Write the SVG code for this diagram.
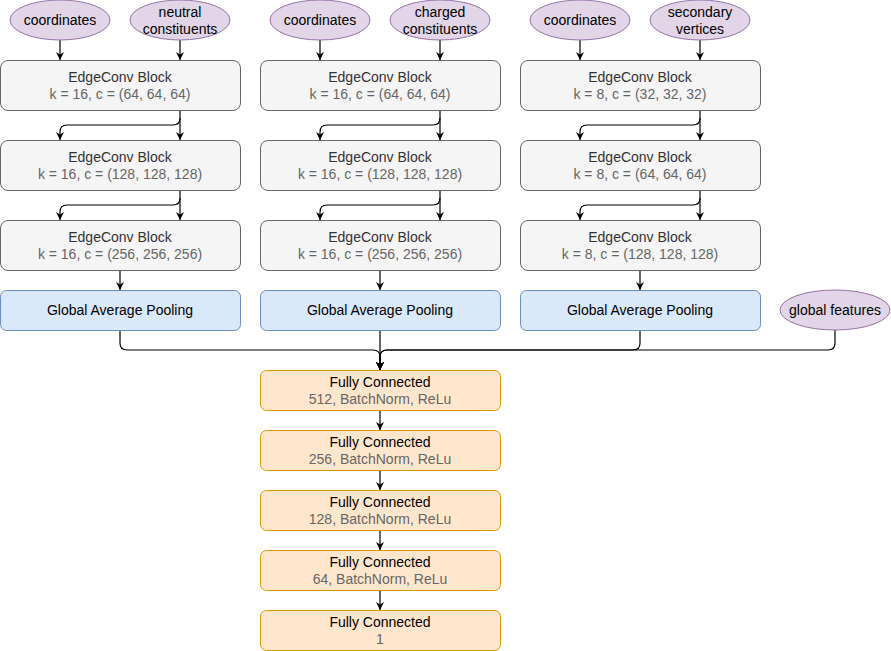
<svg xmlns="http://www.w3.org/2000/svg" width="891" height="651" viewBox="0 0 891 651">
<defs>
<marker id="arr" viewBox="0 0 10 10" refX="10" refY="5" markerWidth="8" markerHeight="8" markerUnits="userSpaceOnUse" orient="auto">
<path d="M0,0 L10,5 L0,10 L3,5 Z" fill="#000"/>
</marker>
<style>
text{font-family:"Liberation Sans",Arial,sans-serif;font-size:14px;text-anchor:middle}
.in{fill:#e1d5e7;stroke:#9673a6;stroke-width:1}
.ec{fill:#f5f5f5;stroke:#666666;stroke-width:1}
.gp{fill:#dae8fc;stroke:#6c8ebf;stroke-width:1}
.fc{fill:#ffe6cc;stroke:#d79b00;stroke-width:1}
.t1{fill:#333333}
.t0{fill:#000000}
.t2{fill:#666666}
.c{fill:none;stroke:#000;stroke-width:1.2}
.a{marker-end:url(#arr)}
</style>
</defs>
<rect width="891" height="651" fill="#ffffff"/>
<g id="connectors">
<!-- inputs -->
<path class="c a" d="M60,40 V60"/>
<path class="c a" d="M180,40 V60"/>
<path class="c a" d="M320,40 V60"/>
<path class="c a" d="M440,40 V60"/>
<path class="c a" d="M580,40 V60"/>
<path class="c a" d="M700,40 V60"/>
<!-- block1 to block2 -->
<path class="c a" d="M180,110 V140"/>
<path class="c a" d="M180,118 Q180,125 173,125 H67 Q60,125 60,132 V140"/>
<path class="c a" d="M440,110 V140"/>
<path class="c a" d="M440,118 Q440,125 433,125 H327 Q320,125 320,132 V140"/>
<path class="c a" d="M700,110 V140"/>
<path class="c a" d="M700,118 Q700,125 693,125 H587 Q580,125 580,132 V140"/>
<!-- block2 to block3 -->
<path class="c a" d="M180,190 V220"/>
<path class="c a" d="M180,198 Q180,205 173,205 H67 Q60,205 60,212 V220"/>
<path class="c a" d="M440,190 V220"/>
<path class="c a" d="M440,198 Q440,205 433,205 H327 Q320,205 320,212 V220"/>
<path class="c a" d="M700,190 V220"/>
<path class="c a" d="M700,198 Q700,205 693,205 H587 Q580,205 580,212 V220"/>
<!-- block3 to pooling -->
<path class="c a" d="M120,270 V290"/>
<path class="c a" d="M380,270 V290"/>
<path class="c a" d="M640,270 V290"/>
<!-- merge -->
<path class="c a" d="M120,330 V343 Q120,350 127,350 H373 Q380,350 380,357 V370"/>
<path class="c a" d="M380,330 V370"/>
<path class="c a" d="M640,330 V343 Q640,350 633,350 H387 Q380,350 380,357 V370"/>
<path class="c a" d="M835,330 V343 Q835,350 828,350 H387 Q380,350 380,357 V370"/>
<!-- FC chain -->
<path class="c a" d="M380,410 V430"/>
<path class="c a" d="M380,470 V490"/>
<path class="c a" d="M380,530 V550"/>
<path class="c a" d="M380,590 V610"/>
</g>
<g id="in-coord-1"><ellipse class="in" cx="60" cy="20" rx="50" ry="20"/><text class="t0" x="60" y="25">coordinates</text></g>
<g id="in-neutral"><ellipse class="in" cx="180" cy="20" rx="50" ry="20"/><text class="t0" x="180" y="17">neutral</text><text class="t0" x="180" y="34">constituents</text></g>
<g id="in-coord-2"><ellipse class="in" cx="320" cy="20" rx="50" ry="20"/><text class="t0" x="320" y="25">coordinates</text></g>
<g id="in-charged"><ellipse class="in" cx="440" cy="20" rx="50" ry="20"/><text class="t0" x="440" y="17">charged</text><text class="t0" x="440" y="34">constituents</text></g>
<g id="in-coord-3"><ellipse class="in" cx="580" cy="20" rx="50" ry="20"/><text class="t0" x="580" y="25">coordinates</text></g>
<g id="in-sv"><ellipse class="in" cx="700" cy="20" rx="50" ry="20"/><text class="t0" x="700" y="17">secondary</text><text class="t0" x="700" y="34">vertices</text></g>

<g id="ec-1-1"><rect class="ec" x="0.5" y="60.5" width="240" height="50" rx="7.5"/><text class="t1" x="120" y="82">EdgeConv Block</text><text class="t2" x="120" y="99">k = 16, c = (64, 64, 64)</text></g>
<g id="ec-1-2"><rect class="ec" x="0.5" y="140.5" width="240" height="50" rx="7.5"/><text class="t1" x="120" y="162">EdgeConv Block</text><text class="t2" x="120" y="179">k = 16, c = (128, 128, 128)</text></g>
<g id="ec-1-3"><rect class="ec" x="0.5" y="220.5" width="240" height="50" rx="7.5"/><text class="t1" x="120" y="242">EdgeConv Block</text><text class="t2" x="120" y="259">k = 16, c = (256, 256, 256)</text></g>

<g id="ec-2-1"><rect class="ec" x="260.5" y="60.5" width="240" height="50" rx="7.5"/><text class="t1" x="380" y="82">EdgeConv Block</text><text class="t2" x="380" y="99">k = 16, c = (64, 64, 64)</text></g>
<g id="ec-2-2"><rect class="ec" x="260.5" y="140.5" width="240" height="50" rx="7.5"/><text class="t1" x="380" y="162">EdgeConv Block</text><text class="t2" x="380" y="179">k = 16, c = (128, 128, 128)</text></g>
<g id="ec-2-3"><rect class="ec" x="260.5" y="220.5" width="240" height="50" rx="7.5"/><text class="t1" x="380" y="242">EdgeConv Block</text><text class="t2" x="380" y="259">k = 16, c = (256, 256, 256)</text></g>

<g id="ec-3-1"><rect class="ec" x="520.5" y="60.5" width="240" height="50" rx="7.5"/><text class="t1" x="640" y="82">EdgeConv Block</text><text class="t2" x="640" y="99">k = 8, c = (32, 32, 32)</text></g>
<g id="ec-3-2"><rect class="ec" x="520.5" y="140.5" width="240" height="50" rx="7.5"/><text class="t1" x="640" y="162">EdgeConv Block</text><text class="t2" x="640" y="179">k = 8, c = (64, 64, 64)</text></g>
<g id="ec-3-3"><rect class="ec" x="520.5" y="220.5" width="240" height="50" rx="7.5"/><text class="t1" x="640" y="242">EdgeConv Block</text><text class="t2" x="640" y="259">k = 8, c = (128, 128, 128)</text></g>

<g id="gap-1"><rect class="gp" x="0.5" y="290.5" width="240" height="40" rx="6"/><text class="t0" x="120" y="315">Global Average Pooling</text></g>
<g id="gap-2"><rect class="gp" x="260.5" y="290.5" width="240" height="40" rx="6"/><text class="t0" x="380" y="315">Global Average Pooling</text></g>
<g id="gap-3"><rect class="gp" x="520.5" y="290.5" width="240" height="40" rx="6"/><text class="t0" x="640" y="315">Global Average Pooling</text></g>
<g id="global-features"><ellipse class="in" cx="835" cy="310" rx="55" ry="20"/><text class="t0" x="835" y="315">global features</text></g>

<g id="fc-1"><rect class="fc" x="260.5" y="370.5" width="240" height="40" rx="6"/><text class="t0" x="380" y="387">Fully Connected</text><text class="t2" x="380" y="404">512, BatchNorm, ReLu</text></g>
<g id="fc-2"><rect class="fc" x="260.5" y="430.5" width="240" height="40" rx="6"/><text class="t0" x="380" y="447">Fully Connected</text><text class="t2" x="380" y="464">256, BatchNorm, ReLu</text></g>
<g id="fc-3"><rect class="fc" x="260.5" y="490.5" width="240" height="40" rx="6"/><text class="t0" x="380" y="507">Fully Connected</text><text class="t2" x="380" y="524">128, BatchNorm, ReLu</text></g>
<g id="fc-4"><rect class="fc" x="260.5" y="550.5" width="240" height="40" rx="6"/><text class="t0" x="380" y="567">Fully Connected</text><text class="t2" x="380" y="584">64, BatchNorm, ReLu</text></g>
<g id="fc-5"><rect class="fc" x="260.5" y="610.5" width="240" height="40" rx="6"/><text class="t0" x="380" y="627">Fully Connected</text><text class="t2" x="380" y="644">1</text></g>
</svg>
